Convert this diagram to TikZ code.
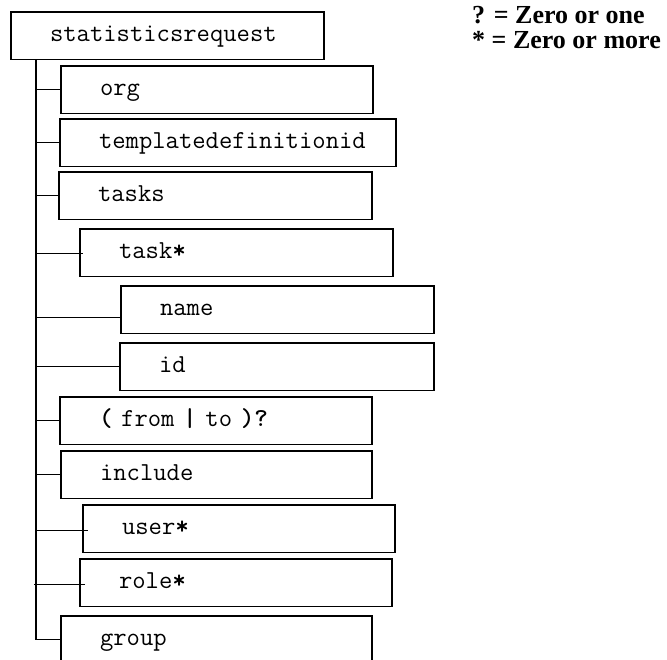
\documentclass[tikz,border=0pt]{standalone}
\usepackage{fontspec}
\newfontfamily\legendfont{Liberation Serif}
\usetikzlibrary{positioning}
\tikzset{
  elem/.style={draw, line width=1.3pt, rectangle, minimum height=47.5pt, outer sep=0pt,
    inner ysep=0pt, inner xsep=39pt, text width=#1, align=left, text height=14pt, text depth=2pt,
    font=\fontsize{25.9pt}{28pt}\selectfont\ttfamily\hyphenpenalty10000\relax},
  elem/.default=234pt,
  conn/.style={line width=1.3pt},
  legend/.style={anchor=base west, inner sep=0pt, font=\fontsize{26pt}{26pt}\selectfont\legendfont\bfseries}
}

\begin{document}
\begin{tikzpicture}[x=1pt, y=1pt]
\useasboundingbox (0,0) rectangle (667,-660);
\clip (0,0) rectangle (667,-660);
\node[elem=235pt, anchor=north west] (root) at (11,-12) {statisticsrequest};
\node[elem, below right=6.5pt and 50pt of root.south west] (org) {org};
\node[elem=258pt, below right=5.5pt and -1pt of org.south west] (templ) {templatedefinitionid};
\node[elem=235pt, below right=5.5pt and -1pt of templ.south west] (tasks) {tasks};
\node[elem=235pt, below right=9.5pt and 21pt of tasks.south west] (task) {task\textbf{*}};
\node[elem=235pt, below right=9.5pt and 41pt of task.south west] (name) {name};
\node[elem=236pt, below right=9.5pt and -1pt of name.south west] (id) {id};
\node[elem, below right=6.5pt and -60pt of id.south west] (range) {\textbf{(} from \textbf{|} to \textbf{)?}};
\node[elem=233pt, below right=6.5pt and 1pt of range.south west] (include) {include};
\node[elem, below right=6.5pt and 22pt of include.south west] (user) {user\textbf{*}};
\node[elem, below right=6.5pt and -3pt of user.south west] (role) {role\textbf{*}};
\node[elem=233pt, below right=9.5pt and -19pt of role.south west] (group) {group};
% legend
\node[legend] (zeroone) at (472,-24) {? = Zero or one};
\node[legend] (zeromore) at (472,-49) {* = Zero or more};
% tree lines
\coordinate (trunk) at ([xshift=25pt]root.south west);
\draw[conn] (trunk) -- (trunk |- group.west);
\foreach \n in {org, templ, tasks, id, range, include, group}
  \draw[conn] (trunk |- \n.west) -- (\n.west);
\coordinate (taskin) at ([xshift=3pt, yshift=-1pt]task.west);
\coordinate (namein) at ([yshift=-7.5pt]name.west);
\coordinate (userin) at ([xshift=5pt, yshift=-2pt]user.west);
\coordinate (rolein) at ([xshift=5pt, yshift=-2pt]role.west);
\draw[conn] (trunk |- taskin) -- (taskin);
\draw[conn] (trunk |- namein) -- (namein);
\draw[conn] (trunk |- userin) -- (userin);
\draw[conn] (rolein) -- (trunk |- rolein) -- ++(-2pt,0);
\end{tikzpicture}
\end{document}
